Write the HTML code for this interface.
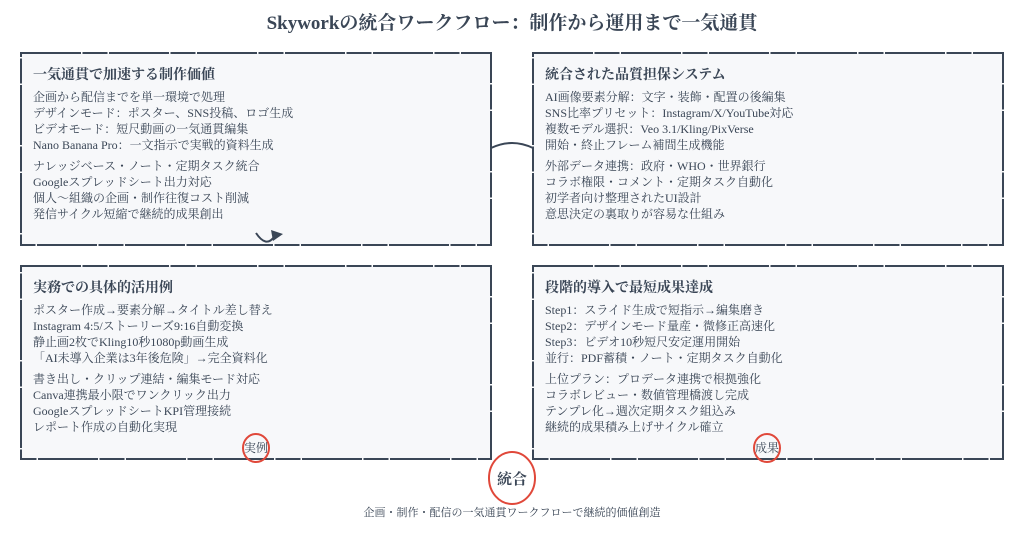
<!DOCTYPE html>
<html><head><meta charset="utf-8"><style>
html,body{margin:0;padding:0;background:#fff;}
svg{display:block;}
text{font-family:"Liberation Serif","Noto Serif CJK SC",serif;fill:#3a4656;}
.h{font-size:14px;font-weight:bold;}
.i{font-size:12px;}
</style></head><body>
<svg width="1024" height="533" viewBox="0 0 1024 533" xmlns="http://www.w3.org/2000/svg">
<text x="512" y="29" text-anchor="middle" style="font-size:19px;font-weight:bold">Skyworkの統合ワークフロー：制作から運用まで一気通貫</text>
<g fill="#f7f8fa" stroke="#3a4656" stroke-width="2" stroke-dasharray="60 1.5 25 1.5">
<rect x="21" y="53" width="470" height="192"/>
<rect x="533" y="53" width="470" height="192"/>
<rect x="21" y="266" width="470" height="193"/>
<rect x="533" y="266" width="470" height="193"/>
</g>
<path d="M491 148 Q512 138 533 148" fill="none" stroke="#3a4656" stroke-width="2"/>
<path d="M256 233 Q266 248 274 237" fill="none" stroke="#3a4656" stroke-width="2"/>
<path d="M271 230 L283 234 L273 241 Z" fill="#3a4656"/>
<g>
<text class="h" x="33" y="79">一気通貫で加速する制作価値</text>
<text class="i" x="33" y="101">企画から配信までを単一環境で処理</text>
<text class="i" x="33" y="117">デザインモード：ポスター、SNS投稿、ロゴ生成</text>
<text class="i" x="33" y="133">ビデオモード：短尺動画の一気通貫編集</text>
<text class="i" x="33" y="149">Nano Banana Pro：一文指示で実戦的資料生成</text>
<text class="i" x="33" y="170">ナレッジベース・ノート・定期タスク統合</text>
<text class="i" x="33" y="186">Googleスプレッドシート出力対応</text>
<text class="i" x="33" y="202">個人〜組織の企画・制作往復コスト削減</text>
<text class="i" x="33" y="218">発信サイクル短縮で継続的成果創出</text>
</g>
<g>
<text class="h" x="545" y="79">統合された品質担保システム</text>
<text class="i" x="545" y="101">AI画像要素分解：文字・装飾・配置の後編集</text>
<text class="i" x="545" y="117">SNS比率プリセット：Instagram/X/YouTube対応</text>
<text class="i" x="545" y="133">複数モデル選択：Veo 3.1/Kling/PixVerse</text>
<text class="i" x="545" y="149">開始・終止フレーム補間生成機能</text>
<text class="i" x="545" y="170">外部データ連携：政府・WHO・世界銀行</text>
<text class="i" x="545" y="186">コラボ権限・コメント・定期タスク自動化</text>
<text class="i" x="545" y="202">初学者向け整理されたUI設計</text>
<text class="i" x="545" y="218">意思決定の裏取りが容易な仕組み</text>
</g>
<g>
<text class="h" x="33" y="292">実務での具体的活用例</text>
<text class="i" x="33" y="314">ポスター作成→要素分解→タイトル差し替え</text>
<text class="i" x="33" y="330">Instagram 4:5/ストーリーズ9:16自動変換</text>
<text class="i" x="33" y="346">静止画2枚でKling10秒1080p動画生成</text>
<text class="i" x="33" y="362">「AI未導入企業は3年後危険」→完全資料化</text>
<text class="i" x="33" y="383">書き出し・クリップ連結・編集モード対応</text>
<text class="i" x="33" y="399">Canva連携最小限でワンクリック出力</text>
<text class="i" x="33" y="415">GoogleスプレッドシートKPI管理接続</text>
<text class="i" x="33" y="431">レポート作成の自動化実現</text>
</g>
<g>
<text class="h" x="545" y="292">段階的導入で最短成果達成</text>
<text class="i" x="545" y="314">Step1：スライド生成で短指示→編集磨き</text>
<text class="i" x="545" y="330">Step2：デザインモード量産・微修正高速化</text>
<text class="i" x="545" y="346">Step3：ビデオ10秒短尺安定運用開始</text>
<text class="i" x="545" y="362">並行：PDF蓄積・ノート・定期タスク自動化</text>
<text class="i" x="545" y="383">上位プラン：プロデータ連携で根拠強化</text>
<text class="i" x="545" y="399">コラボレビュー・数値管理橋渡し完成</text>
<text class="i" x="545" y="415">テンプレ化→週次定期タスク組込み</text>
<text class="i" x="545" y="431">継続的成果積み上げサイクル確立</text>
</g>
<g fill="none" stroke="#e0483a" stroke-width="2">
<ellipse cx="256" cy="448" rx="13" ry="14"/>
<ellipse cx="767" cy="448" rx="13" ry="14"/>
<ellipse cx="512" cy="478" rx="23" ry="26"/>
</g>
<text class="i" x="256" y="452" text-anchor="middle">実例</text>
<text class="i" x="767" y="452" text-anchor="middle">成果</text>
<text x="512" y="484" text-anchor="middle" style="font-size:15px;font-weight:bold">統合</text>
<text x="512" y="516" text-anchor="middle" style="font-size:11px">企画・制作・配信の一気通貫ワークフローで継続的価値創造</text>
</svg>
</body></html>
